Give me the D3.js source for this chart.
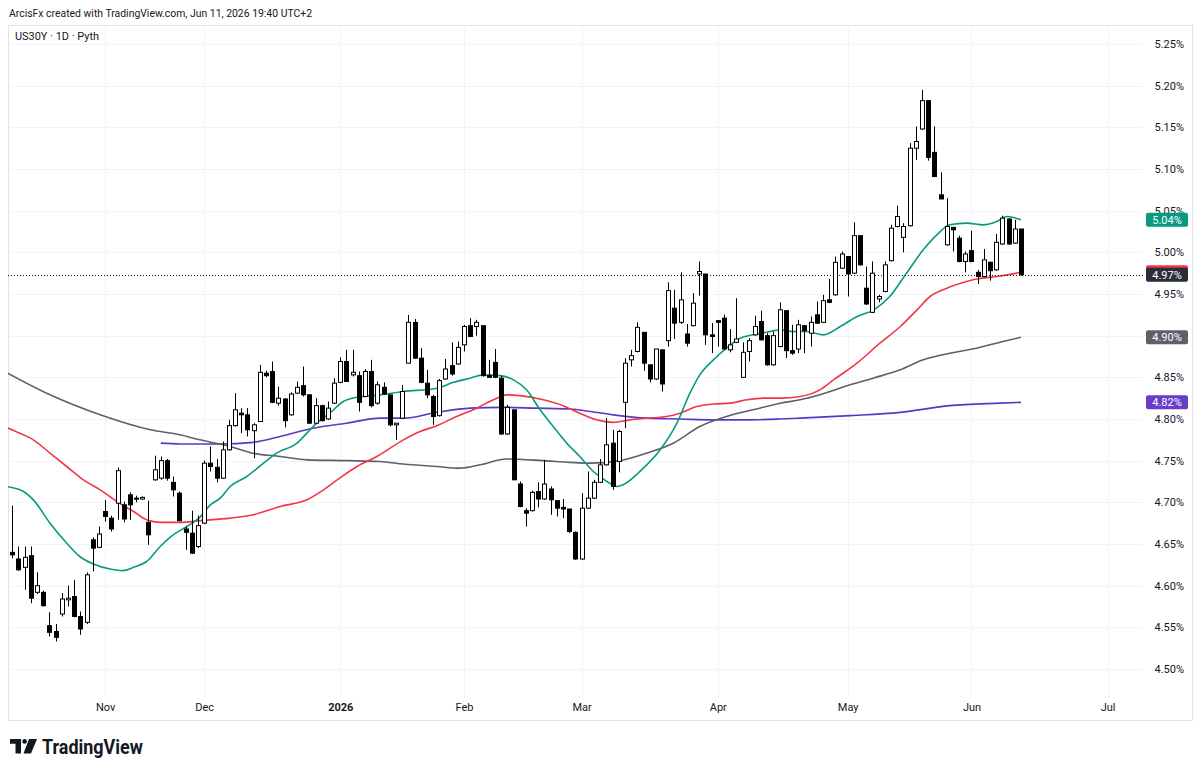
<!DOCTYPE html>
<html>
<head>
<meta charset="utf-8">
<script src="https://cdn.jsdelivr.net/npm/d3@7"></script>
<style>
    html, body { margin: 0; padding: 0; background: #ffffff; }
    svg { display: block; font-family: Roboto, "Liberation Sans", sans-serif; }
</style>
</head>
<body>
<svg id="chart" width="1200" height="771"></svg>
<script>
(function () {
    'use strict';

    // daily bars, [open, high, low, close], first bar mid Oct 2025, last Jun 11 2026
    var candles = [
        [4.640,4.696,4.633,4.637],[4.632,4.647,4.618,4.619],[4.622,4.647,4.595,4.634],[4.636,4.647,4.579,4.585],
        [4.592,4.616,4.590,4.600],[4.592,4.594,4.575,4.576],[4.552,4.568,4.539,4.544],[4.545,4.554,4.533,4.538],
        [4.566,4.591,4.563,4.584],[4.583,4.600,4.575,4.585],[4.587,4.607,4.562,4.563],[4.563,4.569,4.541,4.548],
        [4.556,4.616,4.554,4.613],[4.655,4.658,4.617,4.645],[4.646,4.671,4.645,4.662],[4.689,4.703,4.677,4.683],
        [4.681,4.684,4.665,4.668],[4.699,4.742,4.679,4.738],[4.697,4.701,4.676,4.680],[4.709,4.712,4.679,4.697],
        [4.705,4.708,4.700,4.704],[4.704,4.707,4.703,4.706],[4.676,4.702,4.649,4.661],[4.727,4.756,4.726,4.739],
        [4.729,4.755,4.727,4.750],[4.750,4.752,4.726,4.729],[4.724,4.731,4.707,4.715],[4.711,4.713,4.677,4.678],
        [4.668,4.671,4.643,4.664],[4.663,4.690,4.638,4.639],[4.647,4.684,4.645,4.672],[4.675,4.750,4.674,4.747],
        [4.747,4.767,4.737,4.743],[4.742,4.752,4.724,4.729],[4.729,4.773,4.728,4.763],[4.763,4.799,4.762,4.792],
        [4.792,4.831,4.791,4.811],[4.807,4.813,4.783,4.805],[4.805,4.813,4.779,4.787],[4.786,4.795,4.753,4.793],
        [4.797,4.865,4.797,4.856],[4.855,4.858,4.850,4.852],[4.857,4.869,4.819,4.820],[4.819,4.839,4.816,4.825],
        [4.824,4.825,4.790,4.798],[4.805,4.832,4.804,4.830],[4.831,4.845,4.830,4.838],[4.840,4.863,4.827,4.829],
        [4.829,4.830,4.794,4.795],[4.795,4.825,4.794,4.816],[4.816,4.817,4.797,4.798],[4.800,4.821,4.799,4.813],
        [4.819,4.849,4.818,4.843],[4.844,4.874,4.843,4.869],[4.869,4.883,4.845,4.845],[4.853,4.883,4.851,4.856],
        [4.852,4.857,4.809,4.820],[4.827,4.860,4.826,4.857],[4.857,4.871,4.814,4.816],[4.819,4.845,4.817,4.841],
        [4.838,4.844,4.829,4.830],[4.829,4.829,4.791,4.793],[4.793,4.795,4.775,4.795],[4.801,4.841,4.800,4.833],
        [4.867,4.925,4.867,4.916],[4.916,4.920,4.872,4.873],[4.873,4.885,4.843,4.844],[4.843,4.859,4.825,4.829],
        [4.827,4.829,4.793,4.803],[4.804,4.848,4.803,4.846],[4.848,4.872,4.847,4.860],[4.864,4.892,4.852,4.854],
        [4.866,4.893,4.865,4.886],[4.889,4.913,4.881,4.911],[4.912,4.921,4.898,4.899],[4.911,4.919,4.900,4.916],
        [4.912,4.912,4.851,4.852],[4.852,4.871,4.850,4.850],[4.868,4.884,4.849,4.850],[4.849,4.852,4.781,4.782],
        [4.782,4.817,4.781,4.814],[4.811,4.811,4.727,4.727],[4.722,4.725,4.694,4.695],[4.690,4.693,4.671,4.687],
        [4.690,4.714,4.689,4.712],[4.713,4.724,4.694,4.704],[4.704,4.751,4.703,4.722],[4.716,4.719,4.685,4.703],
        [4.702,4.702,4.683,4.693],[4.694,4.704,4.681,4.692],[4.692,4.692,4.663,4.665],[4.664,4.665,4.631,4.632],
        [4.632,4.711,4.631,4.693],[4.693,4.737,4.692,4.705],[4.705,4.727,4.704,4.724],[4.724,4.752,4.723,4.745],
        [4.745,4.801,4.744,4.769],[4.771,4.787,4.715,4.719],[4.749,4.787,4.736,4.785],[4.820,4.873,4.789,4.867],
        [4.871,4.883,4.863,4.876],[4.881,4.916,4.880,4.910],[4.904,4.904,4.858,4.867],[4.865,4.865,4.844,4.848],
        [4.848,4.884,4.847,4.884],[4.883,4.883,4.833,4.842],[4.894,4.964,4.887,4.954],[4.933,4.955,4.896,4.915],
        [4.916,4.976,4.914,4.943],[4.902,4.914,4.887,4.891],[4.912,4.951,4.911,4.939],[4.974,4.989,4.948,4.977],
        [4.974,4.974,4.889,4.901],[4.901,4.915,4.879,4.899],[4.918,4.918,4.887,4.916],[4.921,4.925,4.883,4.884],
        [4.883,4.908,4.880,4.889],[4.892,4.945,4.891,4.896],[4.850,4.892,4.850,4.880],[4.881,4.897,4.869,4.894],
        [4.901,4.924,4.900,4.911],[4.917,4.930,4.894,4.895],[4.900,4.903,4.864,4.865],[4.865,4.905,4.864,4.900],
        [4.887,4.940,4.886,4.931],[4.930,4.930,4.873,4.882],[4.882,4.913,4.877,4.879],[4.884,4.919,4.879,4.913],
        [4.912,4.913,4.879,4.906],[4.903,4.923,4.887,4.916],[4.925,4.941,4.914,4.915],[4.916,4.949,4.915,4.942],
        [4.943,4.968,4.939,4.940],[4.949,4.995,4.948,4.988],[4.981,5.001,4.980,4.998],[4.995,4.995,4.947,4.974],
        [4.975,5.036,4.974,5.020],[5.020,5.020,4.984,4.985],[4.957,4.983,4.937,4.938],[4.928,4.989,4.927,4.975],
        [4.944,4.949,4.940,4.947],[4.953,4.989,4.952,4.985],[4.990,5.033,4.989,5.029],[5.031,5.056,5.030,5.043],
        [5.018,5.035,5.000,5.031],[5.032,5.131,5.031,5.125],[5.125,5.151,5.111,5.133],[5.148,5.195,5.147,5.182],
        [5.182,5.182,5.110,5.114],[5.120,5.151,5.090,5.091],[5.069,5.096,5.064,5.064],[5.009,5.065,5.008,5.031],
        [5.030,5.030,5.001,5.027],[5.017,5.020,4.988,4.989],[4.989,5.001,4.976,4.998],[5.002,5.026,4.988,4.989],
        [4.976,4.979,4.962,4.971],[4.971,5.004,4.970,4.991],[4.988,4.989,4.966,4.978],[4.979,5.022,4.978,5.012],
        [5.010,5.044,5.009,5.041],[5.040,5.041,5.009,5.010],[5.011,5.039,5.010,5.028],[5.028,5.028,4.972,4.973]
    ];

    // moving averages, [bar, value]
    var maGreen = [
        [-1,4.719],[1.8,4.713],[3.4,4.703],[6.1,4.675],[8.8,4.651],[10.9,4.635],[13.1,4.626],[15.8,4.620],
        [17.9,4.618],[19.6,4.622],[21.7,4.629],[23.9,4.647],[26,4.661],[28.2,4.671],[30.3,4.682],[32,4.697],
        [33.6,4.705],[35.2,4.719],[37.9,4.731],[40.6,4.747],[42.7,4.759],[46,4.771],[47.6,4.783],[49.2,4.795],
        [51.3,4.807],[53.5,4.821],[55.7,4.826],[59.4,4.829],[63.2,4.833],[68.6,4.837],[71.3,4.844],[74,4.849],
        [76.1,4.853],[78.8,4.852],[81,4.847],[83.1,4.835],[85.3,4.811],[87.4,4.791],[89.6,4.771],[91.7,4.755],
        [93.9,4.737],[96.1,4.725],[97.7,4.719],[98.7,4.721],[101.4,4.737],[104.7,4.763],[107.4,4.795],
        [109.5,4.831],[111.1,4.853],[113.3,4.871],[115.4,4.885],[117.6,4.897],[119.7,4.901],[121.9,4.904],
        [124.1,4.907],[126.2,4.905],[128.4,4.905],[131.1,4.901],[133.8,4.911],[136.5,4.923],[139.2,4.931],
        [141.8,4.947],[144.5,4.975],[147.2,5.003],[149.4,5.021],[151.5,5.033],[154.2,5.035],[156.9,5.033],
        [159.1,5.037],[160.7,5.043],[163,5.039]
    ];
    var maRed = [
        [-1,4.790],[1.2,4.783],[3.4,4.775],[6.1,4.759],[8.8,4.743],[11.5,4.727],[14.2,4.715],[16.9,4.701],
        [19.6,4.689],[21.7,4.679],[23.9,4.676],[27.1,4.676],[30.3,4.678],[35.2,4.681],[38.9,4.685],[43.3,4.695],
        [47.6,4.703],[50.3,4.715],[52.9,4.729],[55.7,4.743],[58.9,4.755],[63.2,4.775],[65.9,4.785],[68.6,4.792],
        [71.8,4.803],[75,4.813],[78.3,4.825],[79.9,4.829],[82,4.828],[85.8,4.823],[89,4.816],[91.7,4.807],
        [94.4,4.799],[97.1,4.796],[99.8,4.799],[102.5,4.801],[105.7,4.803],[107.9,4.807],[110.6,4.815],
        [113.3,4.818],[116,4.819],[118.7,4.823],[121.4,4.825],[124.1,4.825],[127.3,4.827],[130.5,4.835],
        [132.7,4.847],[136.5,4.867],[140.2,4.891],[143.5,4.911],[146.2,4.931],[148.3,4.947],[151,4.957],
        [154.2,4.965],[155.8,4.968],[159.1,4.971],[163,4.976]
    ];
    var maGray = [
        [-1,4.856],[6.1,4.829],[14.2,4.805],[22.3,4.787],[27.1,4.781],[30.3,4.775],[35.2,4.767],[38.9,4.759],
        [43.3,4.755],[47.6,4.751],[54,4.750],[59.4,4.749],[63.2,4.746],[68.6,4.743],[72.3,4.741],[75.6,4.745],
        [79.9,4.752],[85.8,4.750],[90.1,4.748],[93.4,4.747],[98.2,4.750],[102.5,4.759],[106.8,4.771],
        [111.1,4.791],[115.4,4.803],[119.7,4.811],[124.1,4.819],[127.3,4.823],[130.5,4.829],[135.4,4.841],
        [139.1,4.849],[143.5,4.859],[147.2,4.871],[151.5,4.879],[155.8,4.885],[160.1,4.893],[163,4.898]
    ];
    var maPurple = [
        [24,4.771],[27.1,4.770],[33.6,4.770],[38.9,4.772],[43.3,4.779],[48.6,4.789],[54,4.795],[59.4,4.801],
        [63.2,4.801],[68.6,4.808],[74,4.813],[79.3,4.814],[84.7,4.813],[90.1,4.812],[93.4,4.809],[97.1,4.805],
        [102.5,4.801],[107.9,4.800],[113.3,4.799],[118.7,4.799],[124.1,4.800],[127.3,4.801],[135.4,4.804],
        [143.5,4.808],[151.5,4.816],[159.6,4.819],[163,4.820]
    ];

    var priceTicks = [4.50, 4.55, 4.60, 4.65, 4.70, 4.75, 4.80, 4.85, 4.90, 4.95, 5.00, 5.05, 5.10, 5.15, 5.20, 5.25];
    var monthLabels = ['Nov', 'Dec', '2026', 'Feb', 'Mar', 'Apr', 'May', 'Jun', 'Jul'];
    var monthBars = [15, 31, 53, 73, 92, 114, 135, 155, 177];

    var ink = '#131722',
        gridColor = '#f0f3fa',
        frameColor = '#e0e3eb';

    var plot = { left: 8, right: 1143, top: 25, bottom: 698 },
        frame = { left: 8, right: 1192, top: 25, bottom: 720 };

    var x = d3.scaleLinear()
        .domain([0, candles.length - 1])
        .range([12.3, 1021]);

    var y = d3.scaleLinear()
        .domain([4.50, 5.25])
        .range([669, 44]);

    var svg = d3.select('#chart');

    svg.append('defs').append('clipPath')
        .attr('id', 'plot-clip')
        .append('rect')
        .attr('x', plot.left)
        .attr('y', plot.top)
        .attr('width', plot.right - plot.left)
        .attr('height', plot.bottom - plot.top);

    // header
    svg.append('text')
        .attr('x', 9)
        .attr('y', 17)
        .attr('textLength', 303)
        .attr('lengthAdjust', 'spacingAndGlyphs')
        .style('font-size', '11px')
        .style('fill', ink)
        .text('ArcisFx created with TradingView.com, Jun 11, 2026 19:40 UTC+2');

    svg.append('rect')
        .attr('x', frame.left + 0.5)
        .attr('y', frame.top + 0.5)
        .attr('width', frame.right - frame.left)
        .attr('height', frame.bottom - frame.top)
        .style('fill', 'none')
        .style('stroke', frameColor);

    // grid
    var grid = svg.append('g').attr('class', 'grid');

    grid.selectAll('line.h')
        .data(priceTicks)
        .enter().append('line')
        .attr('class', 'h')
        .attr('x1', plot.left)
        .attr('x2', plot.right)
        .attr('y1', function (d) { return Math.round(y(d)) + 0.5; })
        .attr('y2', function (d) { return Math.round(y(d)) + 0.5; })
        .style('stroke', gridColor);

    grid.selectAll('line.v')
        .data(monthBars)
        .enter().append('line')
        .attr('class', 'v')
        .attr('x1', function (d) { return Math.round(x(d)) + 0.5; })
        .attr('x2', function (d) { return Math.round(x(d)) + 0.5; })
        .attr('y1', plot.top)
        .attr('y2', plot.bottom)
        .style('stroke', gridColor);

    svg.append('text')
        .attr('x', 15)
        .attr('y', 40)
        .attr('textLength', 84)
        .attr('lengthAdjust', 'spacingAndGlyphs')
        .style('font-size', '11.5px')
        .style('fill', ink)
        .text('US30Y \u00b7 1D \u00b7 Pyth');

    // axes
    var yAxis = d3.axisLeft(y)
        .tickValues(priceTicks)
        .tickSize(0)
        .tickPadding(0)
        .tickFormat(function (d) { return d3.format('.2f')(d) + '%'; });

    var gy = svg.append('g')
        .attr('transform', 'translate(1184,0)')
        .call(yAxis);
    gy.select('.domain').remove();
    gy.selectAll('text')
        .style('font-size', '11px')
        .style('font-family', 'Roboto, "Liberation Sans", sans-serif')
        .style('fill', ink);

    var xAxis = d3.axisBottom(x)
        .tickValues(monthBars)
        .tickSize(0)
        .tickPadding(5)
        .tickFormat(function (d, i) { return monthLabels[i]; });

    var gx = svg.append('g')
        .attr('transform', 'translate(0,' + plot.bottom + ')')
        .call(xAxis);
    gx.select('.domain').remove();
    gx.selectAll('text')
        .style('font-size', '11px')
        .style('font-family', 'Roboto, "Liberation Sans", sans-serif')
        .style('fill', ink)
        .style('font-weight', function (d, i) { return monthLabels[i] === '2026' ? 700 : 400; });

    var chart = svg.append('g').attr('clip-path', 'url(#plot-clip)');

    // moving averages
    var line = d3.line()
        .x(function (d) { return x(d[0]); })
        .y(function (d) { return y(d[1]); })
        .curve(d3.curveMonotoneX);

    var averages = [
        { data: maPurple, color: '#5e35c4' },
        { data: maGray, color: '#5d606b' },
        { data: maRed, color: '#f23645' },
        { data: maGreen, color: '#089981' }
    ];

    chart.selectAll('path.ma')
        .data(averages)
        .enter().append('path')
        .attr('class', 'ma')
        .attr('d', function (d) { return line(d.data); })
        .style('fill', 'none')
        .style('stroke', function (d) { return d.color; })
        .style('stroke-width', 1.6);

    // last price line
    var lastClose = candles[candles.length - 1][3];
    chart.append('line')
        .attr('x1', plot.left)
        .attr('x2', plot.right)
        .attr('y1', Math.round(y(lastClose)) + 0.5)
        .attr('y2', Math.round(y(lastClose)) + 0.5)
        .style('stroke', ink)
        .style('stroke-width', 1)
        .style('stroke-dasharray', '1,2');

    // candles
    var bodyWidth = 4;
    var bars = chart.selectAll('g.bar')
        .data(candles)
        .enter().append('g')
        .attr('class', 'bar');

    bars.append('line')
        .attr('x1', function (d, i) { return Math.round(x(i)) + 0.5; })
        .attr('x2', function (d, i) { return Math.round(x(i)) + 0.5; })
        .attr('y1', function (d) { return y(d[1]); })
        .attr('y2', function (d) { return y(d[2]); })
        .style('stroke', '#000')
        .style('stroke-width', 1);

    bars.append('rect')
        .attr('x', function (d, i) { return Math.round(x(i)) + 0.5 - bodyWidth / 2; })
        .attr('y', function (d) { return y(Math.max(d[0], d[3])); })
        .attr('width', bodyWidth)
        .attr('height', function (d) { return Math.max(1, Math.abs(y(d[0]) - y(d[3]))); })
        .style('fill', function (d) { return d[3] >= d[0] ? '#ffffff' : '#000000'; })
        .style('stroke', '#000')
        .style('stroke-width', 1);

    // value labels on the price scale; the red one sits under the last price tag
    var tags = [
        { v: maPurple[maPurple.length - 1][1], color: '#6a3dc8', label: true },
        { v: maGray[maGray.length - 1][1], color: '#5d606b', label: true },
        { v: maRed[maRed.length - 1][1], color: '#f23645', label: false },
        { v: maGreen[maGreen.length - 1][1], color: '#089981', label: true },
        { v: lastClose, color: '#2a2e39', label: true }
    ];

    var tag = svg.selectAll('g.tag')
        .data(tags)
        .enter().append('g')
        .attr('class', 'tag')
        .attr('transform', function (d) { return 'translate(1146,' + y(d.v) + ')'; });

    tag.append('rect')
        .attr('x', 0)
        .attr('y', -7)
        .attr('width', 42)
        .attr('height', 14)
        .attr('rx', 2)
        .style('fill', function (d) { return d.color; });

    tag.filter(function (d) { return d.label; })
        .append('text')
        .attr('x', 21)
        .attr('y', 4)
        .attr('text-anchor', 'middle')
        .style('font-size', '11px')
        .style('fill', '#ffffff')
        .text(function (d) { return d3.format('.2f')(d.v) + '%'; });

    // TradingView mark
    var logo = svg.append('g').style('fill', ink);
    logo.append('path').attr('d', 'M10,739 H21 V753.5 H15.5 V743.8 H10 Z');
    logo.append('circle').attr('cx', 24.6).attr('cy', 741.4).attr('r', 2.3);
    logo.append('path').attr('d', 'M29,739 H37 L31,753.5 H23.5 Z');
    logo.append('text')
        .attr('x', 42)
        .attr('y', 753.5)
        .attr('textLength', 101)
        .attr('lengthAdjust', 'spacingAndGlyphs')
        .style('font-size', '20px')
        .style('font-weight', 700)
        .text('TradingView');

})();
</script>
</body>
</html>
